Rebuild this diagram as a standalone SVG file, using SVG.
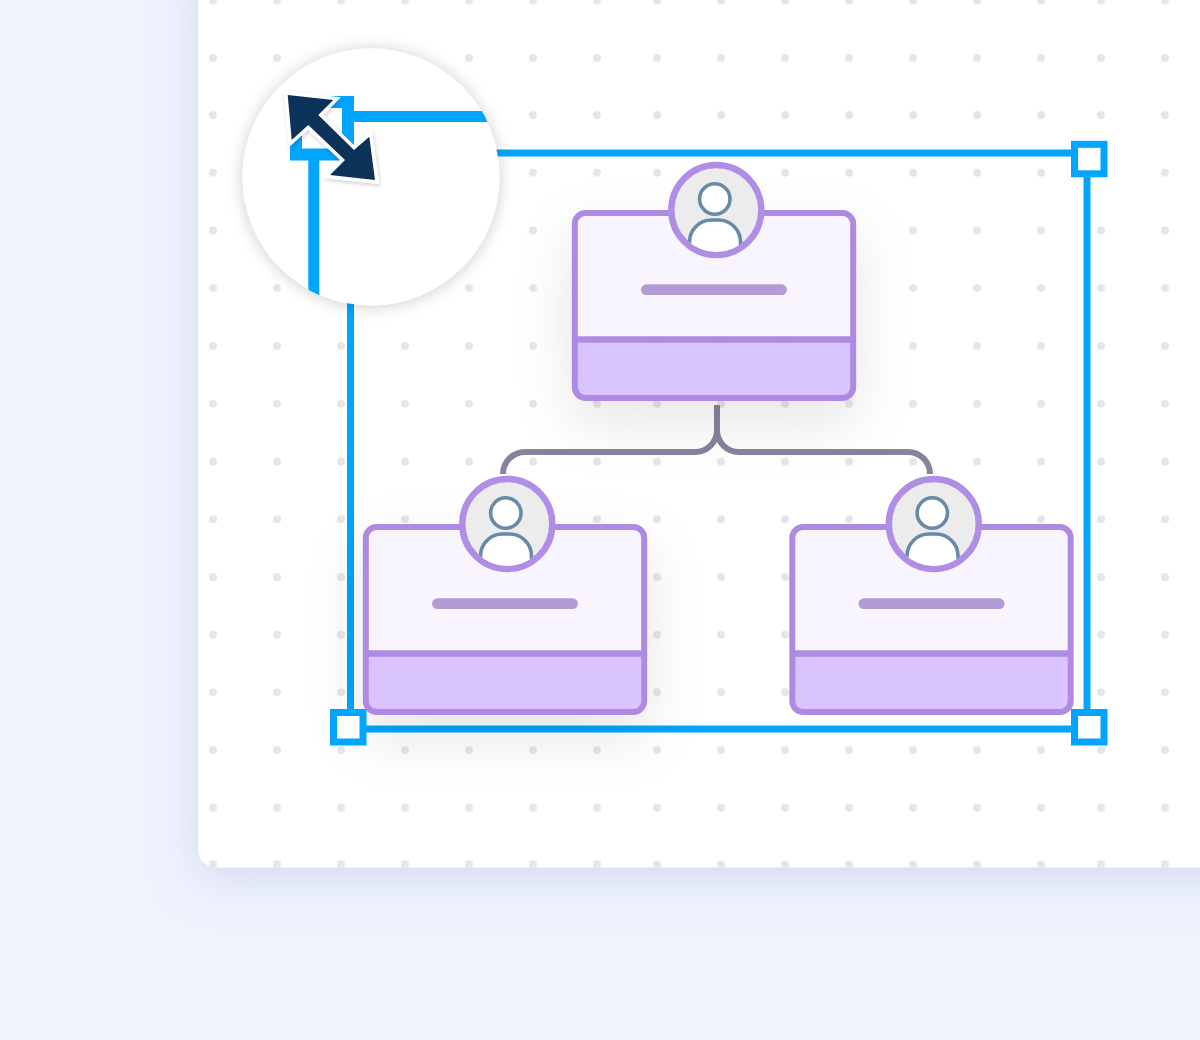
<svg xmlns="http://www.w3.org/2000/svg" xmlns:xlink="http://www.w3.org/1999/xlink" width="1200" height="1040" viewBox="0 0 1200 1040">
<style>
.sel{fill:none;stroke:#00a5ff;stroke-width:7}
.handle{fill:#fff;stroke:#00a5ff;stroke-width:7}
.box{fill:none;stroke:#ae8ae2;stroke-width:6}
.ic{stroke:#668aa8;stroke-width:3.600;fill:#fff}
.conn{fill:none;stroke:#8a819e;stroke-width:6}
.zoomline{stroke:#00a5ff;stroke-width:11;fill:none}
</style>
<defs>
<filter id="panelShadow" filterUnits="userSpaceOnUse" x="60" y="-100" width="1300" height="1120"><feDropShadow dx="0" dy="10" stdDeviation="24" flood-color="#8f9cc4" flood-opacity=".3"/></filter>
<filter id="nodeShadow" filterUnits="userSpaceOnUse" x="440" y="100" width="560" height="500"><feDropShadow dx="0" dy="22" stdDeviation="28" flood-color="#000" flood-opacity=".1"/></filter>
<filter id="lensShadow" x="-20%" y="-20%" width="140%" height="140%"><feDropShadow dx="0" dy="1" stdDeviation="8" flood-color="#000" flood-opacity=".2"/></filter>
<filter id="arrowShadow" x="-20%" y="-20%" width="140%" height="140%"><feDropShadow dx="1" dy="2" stdDeviation="2" flood-color="#000" flood-opacity=".18"/></filter>
<clipPath id="panelClip"><rect x="198" y="-40" width="1100" height="907.500" rx="18"/></clipPath>
<clipPath id="lensClip"><circle cx="371" cy="177" r="129"/></clipPath>
<clipPath id="avatarClip"><circle cx="716.300" cy="210" r="42"/></clipPath>
<g id="dotRow" fill="#e5e6ea">
<circle cx="213" cy="0" r="4"/><circle cx="277" cy="0" r="4"/><circle cx="341" cy="0" r="4"/><circle cx="405" cy="0" r="4"/><circle cx="469" cy="0" r="4"/><circle cx="533" cy="0" r="4"/><circle cx="597" cy="0" r="4"/><circle cx="657" cy="0" r="4"/><circle cx="721" cy="0" r="4"/><circle cx="785" cy="0" r="4"/><circle cx="849" cy="0" r="4"/><circle cx="913" cy="0" r="4"/><circle cx="977" cy="0" r="4"/><circle cx="1041" cy="0" r="4"/><circle cx="1101" cy="0" r="4"/><circle cx="1165" cy="0" r="4"/>
</g>
<g id="card">
<path d="M574.500 339.500V222a9 9 0 0 1 9-9H844a9 9 0 0 1 9 9V339.500Z" fill="#f8f5fe"/>
<path d="M574.500 339.500V389a9 9 0 0 0 9 9H844a9 9 0 0 0 9-9V339.500Z" fill="#d9c2ff" fill-opacity=".96"/>
<rect class="box" x="574.800" y="213" width="278.400" height="185" rx="11"/>
<path d="M575 339.500H853" stroke="#ae8ae2" stroke-width="6.500"/>
<rect x="641" y="284.300" width="146" height="10.800" rx="5.400" fill="#b39cd6"/>
</g>
<g id="avatar">
<circle cx="716.300" cy="210" r="45" fill="#ececec" stroke="#b08ee6" stroke-width="6.500"/>
<g clip-path="url(#avatarClip)">
<circle class="ic" cx="714.800" cy="199" r="15.200"/>
<path class="ic" d="M689.500 262V242a22 22 0 0 1 22-22h7a22 22 0 0 1 22 22v20Z"/>
</g>
</g>
</defs>
<rect id="background" width="1200" height="1040" fill="#eff3fe"/>
<rect id="panel" x="198" y="-40" width="1100" height="907.500" rx="18" fill="#fff" filter="url(#panelShadow)"/>
<g id="dots" clip-path="url(#panelClip)">
<use xlink:href="#dotRow" y="0.500"/><use xlink:href="#dotRow" y="58"/><use xlink:href="#dotRow" y="115"/><use xlink:href="#dotRow" y="172.800"/><use xlink:href="#dotRow" y="230.500"/><use xlink:href="#dotRow" y="288"/><use xlink:href="#dotRow" y="346"/><use xlink:href="#dotRow" y="403.700"/><use xlink:href="#dotRow" y="461.500"/><use xlink:href="#dotRow" y="519.200"/><use xlink:href="#dotRow" y="577"/><use xlink:href="#dotRow" y="634.700"/><use xlink:href="#dotRow" y="692.300"/><use xlink:href="#dotRow" y="750"/><use xlink:href="#dotRow" y="807.800"/><use xlink:href="#dotRow" y="864.500"/>
</g>
<rect id="selection" class="sel" x="350.500" y="153" width="736.500" height="576"/>
<g id="connectors">
<path class="conn" d="M717 405V430a22 22 0 0 1-22 22H525a22 22 0 0 0-22 22"/>
<path class="conn" d="M717 405V430a22 22 0 0 0 22 22H908a22 22 0 0 1 22 22"/>
</g>
<g id="node-top">
<use xlink:href="#card" filter="url(#nodeShadow)"/>
<use xlink:href="#avatar"/>
</g>
<g id="node-left" transform="translate(-209 314)">
<use xlink:href="#card" filter="url(#nodeShadow)"/>
<use xlink:href="#avatar"/>
</g>
<g id="node-right" transform="translate(217.500 314)">
<use xlink:href="#card"/>
<use xlink:href="#avatar"/>
</g>
<g id="handles">
<rect class="handle" x="1074.500" y="144.300" width="29.500" height="29.500"/>
<rect class="handle" x="333.500" y="712.500" width="29.500" height="29.500"/>
<rect class="handle" x="1074.500" y="712.500" width="29.500" height="29.500"/>
</g>
<g id="magnifier">
<circle cx="371" cy="177" r="128.500" fill="#fff" filter="url(#lensShadow)"/>
<g clip-path="url(#lensClip)">
<path class="zoomline" d="M354 116.400H510"/>
<path class="zoomline" d="M313.800 160V320"/>
<rect x="296" y="102" width="52" height="52.500" fill="#fff" stroke="#00a5ff" stroke-width="12"/>
</g>
<polygon points="287.700,95 333.300,100 318.300,115 354,150 369.300,136.700 375,180 330,175 345,160 308.300,125 291.700,140" fill="#10305a" stroke="#fff" stroke-width="7" paint-order="stroke" stroke-linejoin="miter" filter="url(#arrowShadow)"/>
</g>
</svg>
